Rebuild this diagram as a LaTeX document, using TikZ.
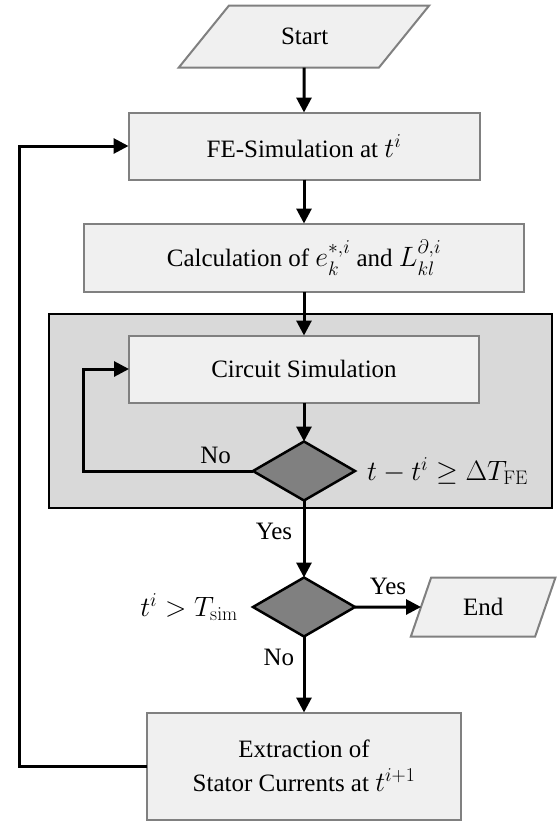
\RequirePackage{fix-cm}
\documentclass[tikz,border=0pt]{standalone}
\usepackage{amsmath, amssymb}
\usepackage[no-math]{fontspec}
\setmainfont{Liberation Serif}
\DeclareMathSizes{25}{28}{19.6}{14}
\definecolor{BoxFill}{RGB}{240, 240, 240}
\definecolor{BoxLine}{RGB}{128, 128, 128}
\definecolor{GroupFill}{RGB}{217, 217, 217}
\definecolor{DecFill}{RGB}{128, 128, 128}
\usetikzlibrary{arrows.meta, positioning, shapes.geometric, backgrounds}

\begin{document}
\begin{tikzpicture}[x=1pt, y=1pt, font=\fontsize{25}{34}\selectfont]
        \tikzstyle{process} = [rectangle, minimum height=67pt, inner sep=0pt, outer sep=0pt, text centered, draw=BoxLine, fill=BoxFill, line width=2pt]
        \tikzstyle{io} = [trapezium, inner ysep=0pt, outer sep=0pt, text height=16pt, text depth=0pt, align=center, draw=BoxLine, fill=BoxFill, line width=2pt]
        \tikzstyle{decision} = [diamond, minimum width=102pt, minimum height=59pt, inner sep=0pt, outer sep=0pt, draw=black, fill=DecFill, line width=2.5pt]
        \tikzstyle{arrow} = [-{Triangle[length=15pt, width=15pt]}, line width=3pt, black]

        \useasboundingbox (0,0) rectangle (557,-825);

        % Nodes
        \node (start) [io, trapezium left angle=51, trapezium right angle=129, text width=46pt, inner xsep=52pt, inner ysep=23pt] at (304,-36.5) {Start};
        \node (fesim) [process, minimum width=351pt, below=45pt of start] {FE-Simulation at $t^i$};
        \node (calc) [process, minimum width=440pt, minimum height=68pt, below=44pt of fesim] {Calculation of $e_k^{*,i}$ and $L_{kl}^{\partial,i}$};
        \node (circuit) [process, minimum width=350pt, below=44pt of calc] {Circuit Simulation};
        \node (check) [decision, below=39pt of circuit] {};
        \node (checklabel) [right=12pt of check, inner sep=0pt] {$t-t^i \geq \Delta T_{\mathrm{FE}}$};
        \node (stop) [decision, below=77pt of check] {};
        \node (stoplabel) [left=15pt of stop, inner sep=0pt] {$t^i > T_{\mathrm{sim}}$};
        \node (end) [io, trapezium left angle=71, trapezium right angle=109, text width=40pt, inner xsep=32pt, inner ysep=21.5pt, right=66pt of stop] {End};
        \node (extract) [process, minimum width=314pt, minimum height=107pt, below=76pt of stop, align=center] {Extraction of\\Stator Currents at $t^{i+1}$};

        % Circuit group
        \begin{pgfonlayer}{background}
            \draw [fill=GroupFill, line width=2.5pt] (49,-314) rectangle (552,-508);
        \end{pgfonlayer}

        % Arrows
        \draw [arrow] (start) -- (fesim);
        \draw [arrow] (fesim) -- (calc);
        \draw [arrow] (calc) -- (circuit);
        \draw [arrow] (circuit) -- (check);
        \draw [arrow] (check) -- node[left=7pt, pos=0.4] {Yes} (stop);
        \draw [arrow] (stop) -- node[above=7pt, pos=0.5] {Yes} (end);
        \draw [arrow] (stop) -- node[left=5pt, pos=0.28] {No} (extract);

        % Feedback loops
        \draw [arrow] (check.west) -- node[above=2pt, pos=0.22] {No} ++(-170,0) |- (circuit.west);
        \draw [arrow] (extract.west) -- ++(-128,0) |- (fesim.west);
    \end{tikzpicture}
\end{document}
